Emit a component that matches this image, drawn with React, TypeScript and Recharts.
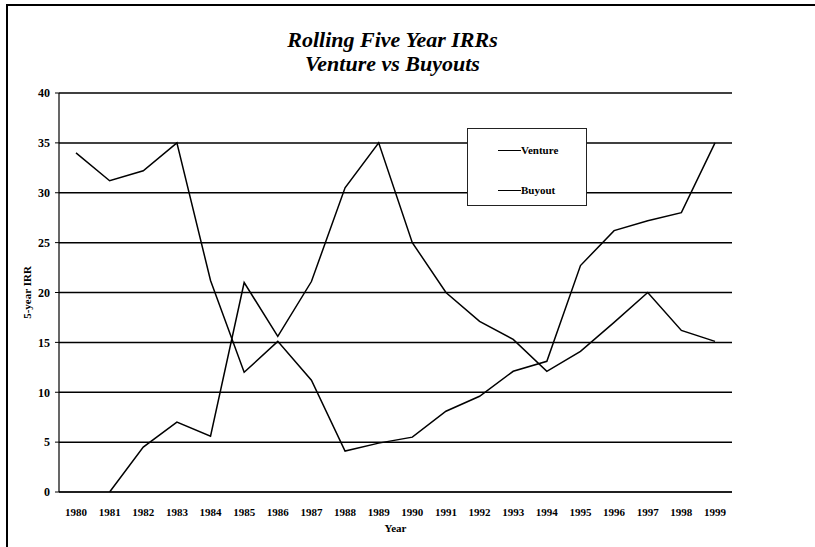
import { LineChart, Line, XAxis, YAxis, CartesianGrid, Legend, Label } from "recharts";

// Années et rendements sur 5 ans
const years = [
  "1980", "1981", "1982", "1983", "1984", "1985", "1986", "1987", "1988", "1989",
  "1990", "1991", "1992", "1993", "1994", "1995", "1996", "1997", "1998", "1999",
];
const venture = [34, 31.2, 32.2, 35, 21.2, 12, 15.1, 11.2, 4.1, 4.9, 5.5, 8.1, 9.6, 12.1, 13.1, 22.7, 26.2, 27.2, 28, 35];
const buyout = [null, 0, 4.5, 7, 5.6, 21, 15.6, 21.1, 30.5, 35, 25, 20, 17.1, 15.3, 12.1, 14.1, 17, 20, 16.2, 15.1];
const seriesNames = ["Venture", "Buyout"];
const yTicks = [0, 5, 10, 15, 20, 25, 30, 35, 40];

const data = years.map((year, i) => ({ year, Venture: venture[i], Buyout: buyout[i] }));

const serif = '"Liberation Serif", "DejaVu Serif", serif';

function LegendBox() {
  return (
    <div
      style={{
        width: 120,
        height: 78,
        border: "1px solid #222",
        background: "#fff",
        boxSizing: "border-box",
        fontFamily: serif,
        fontWeight: "bold",
        fontSize: 11,
        paddingTop: 14,
        paddingLeft: 30,
      }}
    >
      {seriesNames.map((name, i) => (
        <div key={name} style={{ display: "flex", alignItems: "center", height: 14, marginBottom: i === 0 ? 26 : 0 }}>
          <span style={{ display: "inline-block", width: 23, height: 0, borderTop: "1.5px solid #000" }} />
          <span>{name}</span>
        </div>
      ))}
    </div>
  );
}

export default function App() {
  return (
    <div style={{ position: "absolute", left: 0, top: 0, width: 815, height: 547, background: "#fff" }}>
      {/* cadre extérieur (haut et gauche) */}
      <div
        style={{
          position: "absolute",
          left: 6,
          top: 4,
          width: 809,
          height: 543,
          borderTop: "2px solid #000",
          borderLeft: "2px solid #000",
        }}
      />
      <div
        style={{
          position: "absolute",
          left: 0,
          top: 28,
          width: 785,
          textAlign: "center",
          fontFamily: serif,
          fontStyle: "italic",
          fontWeight: "bold",
          fontSize: 22,
          lineHeight: "24px",
        }}
      >
        Rolling Five Year IRRs
        <br />
        Venture vs Buyouts
      </div>
      <div style={{ position: "absolute", left: 0, top: 0 }}>
        <LineChart width={815} height={547} data={data} margin={{ top: 93, right: 83, bottom: 10, left: 25 }}>
          <CartesianGrid vertical={false} stroke="#000" strokeWidth={1.5} />
          <XAxis
            dataKey="year"
            height={45}
            padding={{ left: 17, right: 17 }}
            axisLine={{ stroke: "#000", strokeWidth: 1.2 }}
            tickLine={false}
            tickMargin={10}
            interval={0}
            tick={{ fill: "#000", fontFamily: serif, fontWeight: "bold", fontSize: 11 }}
          >
            <Label value="Year" position="insideBottom" offset={5} style={{ fill: "#000", fontFamily: serif, fontWeight: "bold", fontSize: 11 }} />
          </XAxis>
          <YAxis
            width={34}
            domain={[0, 40]}
            ticks={yTicks}
            interval={0}
            axisLine={{ stroke: "#000", strokeWidth: 1.2 }}
            tickLine={{ stroke: "#000" }}
            tickSize={4}
            tickMargin={5}
            tick={{ fill: "#000", fontFamily: serif, fontWeight: "bold", fontSize: 12 }}
          >
            <Label
              value="5-year IRR"
              angle={-90}
              position="insideLeft"
              offset={2}
              style={{ textAnchor: "middle", fill: "#000", fontFamily: serif, fontWeight: "bold", fontSize: 11 }}
            />
          </YAxis>
          <YAxis
            yAxisId="r"
            orientation="right"
            width={0}
            domain={[0, 40]}
            tick={false}
            tickLine={false}
            axisLine={{ stroke: "#000", strokeWidth: 1.2 }}
          />
          <Legend
            layout="vertical"
            align="center"
            verticalAlign="middle"
            content={<LegendBox />}
            wrapperStyle={{ left: 467, top: 128, width: 120, height: 78 }}
          />
          <Line dataKey="Venture" stroke="#000" strokeWidth={1.5} dot={false} isAnimationActive={false} />
          <Line dataKey="Buyout" stroke="#000" strokeWidth={1.5} dot={false} isAnimationActive={false} />
        </LineChart>
      </div>
    </div>
  );
}
